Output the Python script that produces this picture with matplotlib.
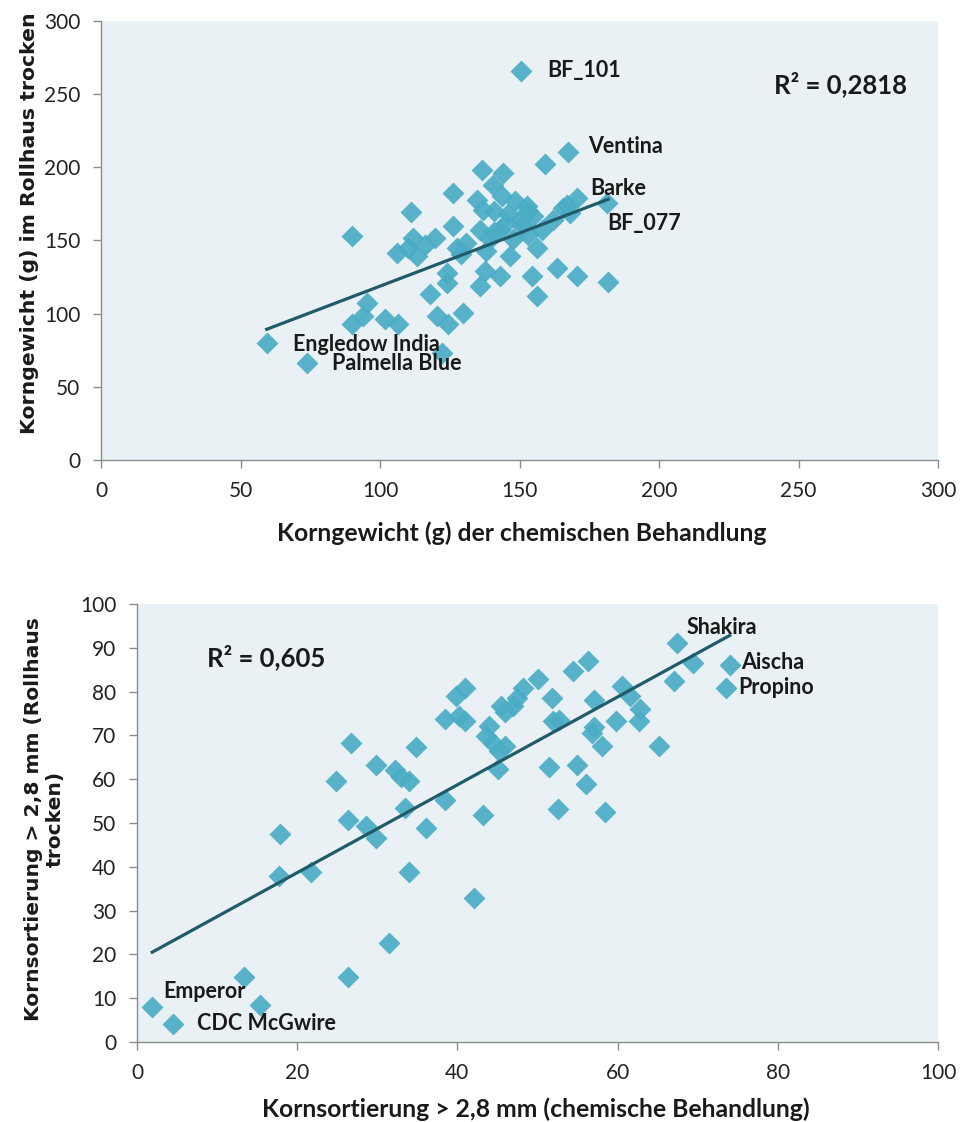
import matplotlib
matplotlib.use("Agg")
import matplotlib.pyplot as plt
import numpy as np

# --- top chart: Korngewicht ---
x_top = [150.5, 167.5, 159.1, 136.4, 144.2, 126.3, 134.7, 140.6, 143.6, 148.4,
         152.6, 155.0, 170.5, 181.3, 165.7, 162.1, 111.1, 89.9, 126.3, 119.7,
         112.0, 106.0, 113.2, 127.5, 135.8, 139.4, 143.0, 150.2, 147.8, 153.2,
         156.2, 146.6, 123.9, 123.9, 137.6, 143.0, 135.8, 154.4, 156.2, 163.3,
         170.5, 181.8, 117.9, 120.3, 124.5, 129.9, 95.2, 94.0, 89.9, 101.8,
         106.6, 59.4, 73.7, 122.1, 141.0, 146.0, 151.0, 145.0, 138.0, 131.0,
         158.0, 167.0, 110.0, 116.0, 141.0, 129.0, 153.0, 168.0, 137.0]
y_top = [266.0, 210.5, 202.5, 197.9, 196.1, 182.5, 178.0, 188.2, 180.2, 176.8,
         173.4, 166.6, 179.1, 175.7, 172.3, 164.3, 169.3, 153.4, 159.8, 151.8,
         151.8, 141.6, 139.3, 145.0, 157.5, 150.7, 157.5, 164.3, 150.7, 154.1,
         145.0, 139.3, 128.0, 121.2, 129.0, 125.6, 118.8, 125.6, 112.0, 131.4,
         125.6, 121.8, 113.2, 98.4, 92.7, 100.7, 107.5, 98.4, 92.7, 96.1,
         92.7, 80.2, 66.6, 73.4, 170.0, 168.0, 160.0, 162.0, 143.0, 148.0,
         157.0, 174.0, 145.0, 147.0, 156.0, 141.0, 170.0, 169.0, 171.0]
names_top = {0: "BF_101", 1: "Ventina", 12: "Barke", 13: "BF_077",
             51: "Engledow India", 52: "Palmella Blue"}
trend_top = (0.726, 46.2)
r2_top = "R² = 0,2818"

# --- bottom chart: Kornsortierung ---
x_bot = [67.4, 69.4, 74.0, 73.5, 67.0, 65.2, 60.5, 61.5, 62.8, 62.7,
         59.8, 56.3, 54.4, 57.1, 57.1, 56.8, 58.0, 54.9, 56.1, 58.4,
         52.5, 51.4, 51.8, 51.9, 52.7, 50.0, 48.2, 47.4, 46.9, 45.5,
         45.9, 44.0, 43.6, 44.4, 45.9, 45.2, 45.1, 43.2, 42.1, 41.0,
         39.8, 41.0, 38.4, 40.2, 38.5, 36.1, 34.8, 33.9, 33.9, 33.5,
         32.2, 33.0, 29.9, 29.9, 28.6, 31.4, 26.7, 24.8, 26.3, 26.4,
         21.7, 17.9, 17.7, 13.3, 15.4, 1.9, 4.5]
y_bot = [91.2, 86.5, 86.1, 80.9, 82.5, 67.5, 81.3, 79.1, 76.1, 73.4,
         73.4, 87.1, 84.6, 78.1, 72.0, 70.5, 67.5, 63.3, 58.9, 52.4,
         53.3, 62.8, 78.5, 73.4, 73.6, 82.9, 80.9, 78.6, 76.6, 76.6,
         75.4, 72.2, 69.9, 68.3, 67.5, 66.5, 62.4, 51.8, 32.8, 80.9,
         79.0, 73.4, 73.8, 74.5, 55.3, 48.8, 67.3, 59.6, 38.9, 53.4,
         62.0, 60.5, 63.2, 46.6, 49.4, 22.6, 68.3, 59.6, 50.6, 14.9,
         38.8, 47.6, 37.9, 14.9, 8.4, 8.0, 4.2]
names_bot = {0: "Shakira", 2: "Aischa", 3: "Propino", 65: "Emperor", 66: "CDC McGwire"}
trend_bot = (1.003, 18.6)
r2_bot = "R² = 0,605"

# label offsets in points (dx, dy)
offs_top = {"BF_101": (19, 0), "Ventina": (14, 4), "Barke": (10, 7), "BF_077": (0, -15),
            "Engledow India": (19, -1), "Palmella Blue": (18, -1)}
offs_bot = {"Shakira": (7, 11), "Aischa": (8, 2), "Propino": (9, 0),
            "Emperor": (8, 11), "CDC McGwire": (17, 0)}

BG = "#E9F1F5"
MARK = "#4BACC6"
LINE = "#215B69"
GRAY = "#8C8C8C"
TXT = "#1A1A1A"


def style_axes(ax, xmax, ymax, step_x, step_y):
    ax.set_facecolor(BG)
    ax.set_xlim(0, xmax)
    ax.set_ylim(0, ymax)
    ax.set_xticks(np.arange(0, xmax + 1, step_x))
    ax.set_yticks(np.arange(0, ymax + 1, step_y))
    for s in ("top", "right"):
        ax.spines[s].set_visible(False)
    for s in ("left", "bottom"):
        ax.spines[s].set_color(GRAY)
        ax.spines[s].set_linewidth(1.0)
    ax.tick_params(axis="both", direction="out", length=6, width=1.0, color=GRAY,
                   labelsize=15, labelcolor="#222222")
    ax.tick_params(axis="x", pad=9)
    ax.tick_params(axis="y", pad=9)
    for lab in ax.get_xticklabels() + ax.get_yticklabels():
        lab.set_fontfamily("Lato")


def draw(ax, xs, ys, names, offs, trend):
    xs = np.array(xs)
    ys = np.array(ys)
    ax.scatter(xs, ys, marker="D", s=125, color=MARK, alpha=0.93, linewidths=0, zorder=3)
    lx = np.array([xs.min(), xs.max()])
    ax.plot(lx, trend[0] * lx + trend[1], color=LINE, lw=2.3, zorder=4)
    for i, nm in names.items():
        ax.annotate(nm, (xs[i], ys[i]), xytext=offs[nm], textcoords="offset points",
                    ha="left", va="center", fontsize=15.5, fontweight="bold",
                    family="Lato", color=TXT, zorder=5)


fig = plt.figure(figsize=(9.6, 11.22), dpi=100)

ax1 = fig.add_axes([101 / 960, 1 - 460 / 1122, 837 / 960, 439 / 1122])
style_axes(ax1, 300, 300, 50, 50)
draw(ax1, x_top, y_top, names_top, offs_top, trend_top)
ax1.text(0.884, 0.856, r2_top, transform=ax1.transAxes, ha="center", va="center",
         fontsize=18.5, fontweight="bold", family="Lato", color=TXT)
ax1.set_xlabel("Korngewicht (g) der chemischen Behandlung", fontsize=17.8,
               fontweight="bold", family="Lato", color=TXT)
ax1.xaxis.set_label_coords(0.503, -0.14)
ax1.set_ylabel("Korngewicht (g) im Rollhaus trocken", fontsize=14.7,
               fontweight="bold", family="DejaVu Sans", color=TXT)
ax1.yaxis.set_label_coords(-0.074, 0.54)

ax2 = fig.add_axes([137 / 960, 1 - 1042 / 1122, 801 / 960, 438 / 1122])
style_axes(ax2, 100, 100, 20, 10)
draw(ax2, x_bot, y_bot, names_bot, offs_bot, trend_bot)
ax2.text(0.161, 0.879, r2_bot, transform=ax2.transAxes, ha="center", va="center",
         fontsize=18.5, fontweight="bold", family="Lato", color=TXT)
ax2.set_xlabel("Kornsortierung > 2,8 mm (chemische Behandlung)", fontsize=17.8,
               fontweight="bold", family="Lato", color=TXT)
ax2.xaxis.set_label_coords(0.498, -0.126)
ax2.set_ylabel("Kornsortierung > 2,8 mm (Rollhaus\ntrocken)", fontsize=14.6,
               fontweight="bold", family="DejaVu Sans", color=TXT, linespacing=1.2)
ax2.yaxis.set_label_coords(-0.09, 0.509)

fig.savefig("out.png", dpi=100)
